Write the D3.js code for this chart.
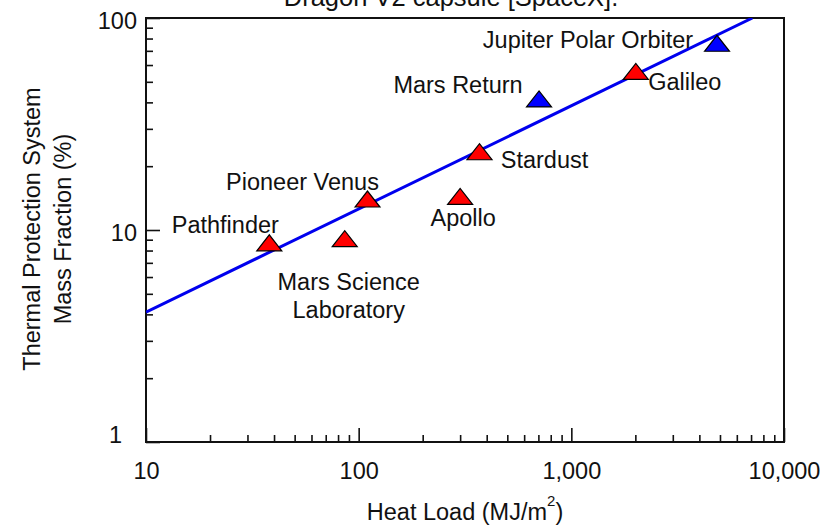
<!DOCTYPE html>
<html>
<head>
<meta charset="utf-8">
<script src="https://cdn.jsdelivr.net/npm/d3@7"></script>
<style>
  body { margin: 0; background: #fff; }
  svg { display: block; font-family: "Liberation Sans", Arial, sans-serif; }
</style>
</head>
<body>
<script>
// data
const missions = ["Pathfinder", "Mars Science Laboratory", "Pioneer Venus", "Apollo", "Stardust", "Mars Return", "Galileo", "Jupiter Polar Orbiter"];
const heatLoad = [38, 86, 110, 300, 370, 705, 2010, 4840];
const massFraction = [8.7, 9.1, 14.0, 14.4, 23.4, 41.5, 56, 76];
const missionStatus = ["flown", "flown", "flown", "flown", "flown", "proposed", "flown", "proposed"];
const fitHeatLoad = [10, 7100];
const fitMassFraction = [4.1, 100];
const xTickValues = [10, 100, 1000, 10000];
const yTickValues = [1, 10, 100];

const width = 820, height = 528;
const fontSize = 23.5;
const colors = { flown: "#ff0000", proposed: "#0000ff" };

// label placement relative to the marker (layout, not data)
const labelOffsets = {
  "Pathfinder": [[-44, -18]],
  "Mars Science Laboratory": [[4, 43], [4, 71]],
  "Pioneer Venus": [[-65, -17]],
  "Apollo": [[3, 21]],
  "Stardust": [[65, 8]],
  "Mars Return": [[-81, -14]],
  "Galileo": [[49, 10]],
  "Jupiter Polar Orbiter": [[-129, -3]]
};
const labelLines = {
  "Mars Science Laboratory": ["Mars Science", "Laboratory"]
};

const svg = d3.select("body").append("svg")
  .attr("width", width)
  .attr("height", height);

const x = d3.scaleLog().domain([10, 10000]).range([146, 784]);
const y = d3.scaleLog().domain([1, 100]).range([442, 18]);

// minor ticks 2..9 in each decade
const minorX = [], minorY = [];
[10, 100, 1000].forEach(d => { for (let k = 2; k <= 9; k++) minorX.push(d * k); });
[1, 10].forEach(d => { for (let k = 2; k <= 9; k++) minorY.push(d * k); });

// title (cut off at top, as in the original)
svg.append("text")
  .attr("x", 451).attr("y", 6)
  .attr("text-anchor", "middle")
  .attr("font-size", 25.5)
  .attr("fill", "#111")
  .text("Dragon V2 capsule [SpaceX].");

// x axis
const xMinor = svg.append("g").attr("transform", "translate(0,442)")
  .call(d3.axisBottom(x).tickValues(minorX).tickSize(-7).tickFormat(""));
const xMajor = svg.append("g").attr("transform", "translate(0,442)")
  .call(d3.axisBottom(x).tickValues(xTickValues).tickSize(-14).tickPadding(20).tickFormat(d3.format(",")));
// y axis
const yMinor = svg.append("g").attr("transform", "translate(146,0)")
  .call(d3.axisLeft(y).tickValues(minorY).tickSize(-7).tickFormat(""));
const yMajor = svg.append("g").attr("transform", "translate(146,0)")
  .call(d3.axisLeft(y).tickValues(yTickValues).tickSize(-14).tickPadding(9).tickFormat(d3.format("d")));

[xMinor, xMajor, yMinor, yMajor].forEach(g => {
  g.select(".domain").remove();
  g.selectAll("line").attr("stroke", "#111").attr("stroke-width", 1.6);
  g.selectAll("text").attr("font-size", fontSize).attr("fill", "#111")
    .attr("font-family", "Liberation Sans, Arial, sans-serif");
});
yMajor.selectAll(".tick text").attr("dy", "0.44em");
// the "1" label sits up and left of its tick
yMajor.selectAll(".tick").filter(d => d === 1).select("text")
  .attr("x", -24).attr("dy", "0.02em");

// frame
svg.append("rect")
  .attr("x", 146).attr("y", 18)
  .attr("width", 784 - 146).attr("height", 442 - 18)
  .attr("fill", "none")
  .attr("stroke", "#111")
  .attr("stroke-width", 2);

// fit line clipped to the plot
svg.append("clipPath").attr("id", "plotClip")
  .append("rect").attr("x", 146).attr("y", 18).attr("width", 638).attr("height", 424);

const fitData = fitHeatLoad.map((h, i) => ({ h: h, m: fitMassFraction[i] }));
svg.append("path")
  .datum(fitData)
  .attr("clip-path", "url(#plotClip)")
  .attr("fill", "none")
  .attr("stroke", "#0000ee")
  .attr("stroke-width", 3)
  .attr("d", d3.line().x(d => x(d.h)).y(d => y(d.m)));

// markers
const points = missions.map((name, i) => ({
  name: name, h: heatLoad[i], m: massFraction[i], status: missionStatus[i]
}));

const tri = "M-12.5,8L0,-8L12.5,8Z";
svg.append("g").selectAll("path")
  .data(points)
  .join("path")
  .attr("d", tri)
  .attr("transform", d => `translate(${x(d.h)},${y(d.m)})`)
  .attr("fill", d => colors[d.status])
  .attr("stroke", "#000")
  .attr("stroke-width", 1.2);

// labels
const labels = svg.append("g")
  .attr("font-size", fontSize)
  .attr("fill", "#111")
  .attr("text-anchor", "middle");
points.forEach(d => {
  const lines = labelLines[d.name] || [d.name];
  lines.forEach((line, j) => {
    const off = labelOffsets[d.name][j];
    labels.append("text")
      .attr("x", x(d.h) + off[0])
      .attr("y", y(d.m) + off[1])
      .attr("dy", "0.35em")
      .text(line);
  });
});

// y axis title
const yTitle = svg.append("g")
  .attr("transform", "translate(47,229) rotate(-90)")
  .attr("font-size", fontSize)
  .attr("fill", "#111")
  .attr("text-anchor", "middle");
yTitle.append("text").attr("y", -15).attr("dy", "0.35em").text("Thermal Protection System");
yTitle.append("text").attr("y", 16).attr("dy", "0.35em").text("Mass Fraction (%)");

// x axis title
const xTitle = svg.append("text")
  .attr("x", 465).attr("y", 520)
  .attr("text-anchor", "middle")
  .attr("font-size", fontSize)
  .attr("fill", "#111");
xTitle.append("tspan").text("Heat Load (MJ/m");
xTitle.append("tspan").attr("font-size", 15).attr("dy", -14).text("2");
xTitle.append("tspan").attr("dy", 14).text(")");
</script>
</body>
</html>
